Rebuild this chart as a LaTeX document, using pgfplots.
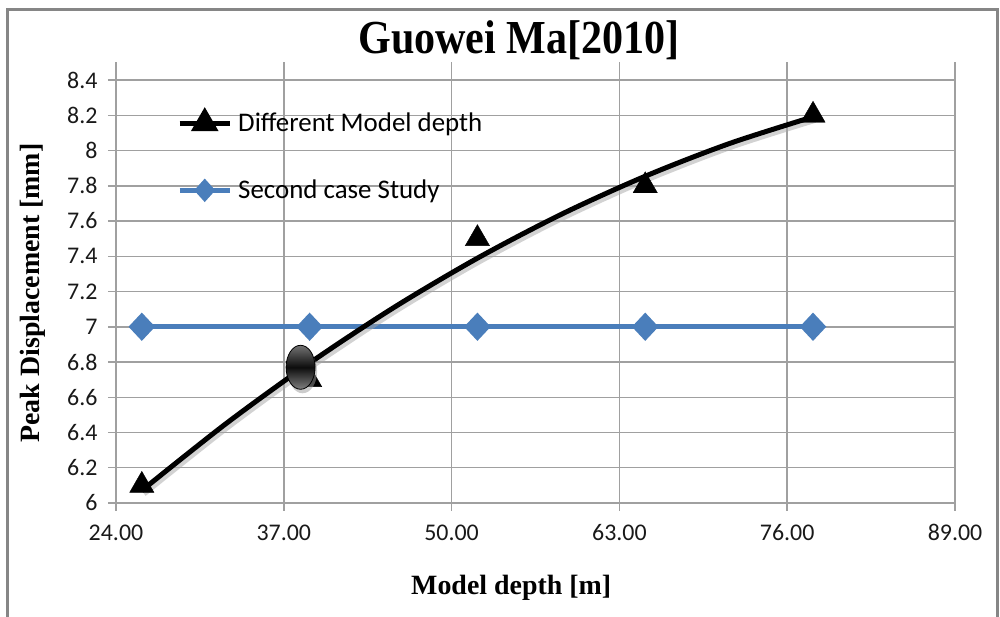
\documentclass[border=0pt]{standalone}
\usepackage{fontspec}
\setmainfont{Carlito}
\newfontfamily\tnr{Liberation Serif}
\usepackage{pgfplots}
\pgfplotsset{compat=1.18}
\usetikzlibrary{shapes.geometric,shadows}
\definecolor{excelblue}{RGB}{74,126,187}
\definecolor{gridgray}{RGB}{160,160,160}
\definecolor{framegray}{RGB}{134,134,134}

\begin{document}
\begin{tikzpicture}[x=1bp,y=1bp]
\useasboundingbox (-116,-114) rectangle (884,503);
% outer chart frame
\draw[framegray, line width=3bp] (-108,-130) -- (-108,493) -- (881,493) -- (881,-130);
% chart title
\node[font=\tnr\bfseries\fontsize{44}{50}\selectfont, xscale=0.96, yscale=1.08] at (403,463) {Guowei Ma[2010]};
\begin{axis}[
  scale only axis, width=839bp, height=440.6bp,
  xmin=24, xmax=89, ymin=6, ymax=8.5,
  axis x line*=bottom, axis y line*=left,
  axis line style={gridgray, line width=1.5bp, -},
  grid=major, grid style={gridgray, line width=1.5bp},
  xtick={24,37,50,63,76,89},
  ytick={6,6.2,6.4,6.6,6.8,7,7.2,7.4,7.6,7.8,8,8.2,8.4},
  tick align=outside, major tick length=8bp,
  tick style={gridgray, line width=1.5bp},
  /pgf/number format/assume math mode=true,
  tick label style={font=\fontsize{24}{28}\selectfont, text=black!90},
  xticklabel style={yshift=-10bp, /pgf/number format/.cd, fixed, fixed zerofill, precision=2},
  yticklabel style={xshift=-7bp, /pgf/number format/.cd, fixed},
  xlabel={Model depth [m]}, ylabel={Peak Displacement [mm]},
  every axis x label/.style={at={(rel axis cs:0.471,0)}, anchor=center, yshift=-85bp,
    font=\tnr\bfseries\fontsize{28}{32}\selectfont},
  every axis y label/.style={at={(rel axis cs:0,0.4766)}, anchor=center, xshift=-83bp, rotate=90,
    font=\tnr\bfseries\fontsize{28}{32}\selectfont},
  legend style={draw=none, fill=none, at={(rel axis cs:0.0692,0.892)}, anchor=north west,
    font=\fontsize{27}{31}\selectfont, row sep=47bp, column sep=6bp,
    nodes={inner sep=0pt, anchor=west}},
  legend cell align=left,
  legend image code/.code={\draw[mark repeat=2, mark phase=2, #1]
    plot coordinates {(0bp,0bp) (25bp,0bp) (50bp,0bp)};},
  clip=false,
]
\addlegendimage{black, line width=5bp, mark=triangle*, mark size=11bp, mark options={solid}}
\addlegendentry{Different Model depth}
\addlegendimage{excelblue, line width=5bp, mark=diamond*, mark size=8bp, mark options={xscale=1.2}}
\addlegendentry{Second case Study}

% second case study
\addplot[forget plot, excelblue, line width=5bp, mark=diamond*, mark size=10.5bp,
  mark options={xscale=1.25}]
  coordinates {(26,7) (39,7) (52,7) (65,7) (78,7)};

% trend curve through the model-depth results, with its soft shadow
\addplot[forget plot, black!35, opacity=0.5, line width=6bp, smooth, xshift=2bp, yshift=-3bp]
  coordinates {(26,6.071) (32.5,6.449) (39,6.794) (45.5,7.108) (52,7.389)
               (58.5,7.638) (65,7.854) (71.5,8.039) (78,8.191)};
\addplot[forget plot, black, line width=5bp, smooth]
  coordinates {(26,6.071) (32.5,6.449) (39,6.794) (45.5,7.108) (52,7.389)
               (58.5,7.638) (65,7.854) (71.5,8.039) (78,8.191)};

% different model depth results
\addplot[forget plot, only marks, black, mark=triangle*, mark size=14bp]
  coordinates {(26,6.1) (39,6.7) (52,7.5) (65,7.8) (78,8.2)};

% highlighted point
\addplot[forget plot, draw=none, mark=none, nodes near coords={\mbox{}},
  nodes near coords align=center,
  every node near coord/.style={ellipse, minimum width=29bp, minimum height=44bp,
    inner sep=0pt, anchor=center, draw=black, line width=0.8bp,
    top color=black!55, bottom color=black!50, middle color=black!95,
    drop shadow={shadow xshift=2bp, shadow yshift=-4bp, fill=black!40}}]
  coordinates {(38.3,6.77)};
\end{axis}
\end{tikzpicture}
\end{document}
